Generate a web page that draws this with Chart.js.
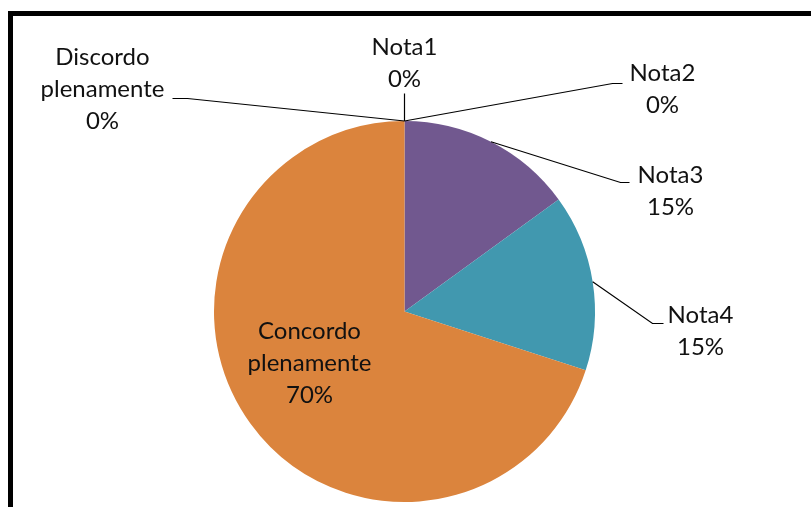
<!DOCTYPE html>
<html>
<head>
<meta charset="utf-8">
<script src="https://cdn.jsdelivr.net/npm/chart.js@4"></script>
<style>
    body { margin: 0; background: #fff; }
    #wrap { position: relative; width: 811px; height: 507px; overflow: hidden; }
    #frame { position: absolute; left: 8px; top: 11px; width: 900px; height: 600px;
             border-left: 5px solid #000; border-top: 5px solid #000; }
    canvas { position: absolute; left: 0; top: 0; }
</style>
</head>
<body>
<div id="wrap">
    <div id="frame"></div>
    <canvas id="pieChart" width="811" height="507"></canvas>
</div>
<script>
const categories = ['Discordo plenamente', 'Nota1', 'Nota2', 'Nota3', 'Nota4', 'Concordo plenamente'];
const labelLines = [['Discordo', 'plenamente', '0%'], ['Nota1', '0%'], ['Nota2', '0%'], ['Nota3', '15%'], ['Nota4', '15%'], ['Concordo', 'plenamente', '70%']];
const percents = [0, 0, 0, 15, 15, 70];
const sliceColors = ['#4F6FA5', '#B24A47', '#8FAB4F', '#71588F', '#4198AF', '#DB843D'];

// label anchor (text centre, relative to pie centre) and where the leader line ends
const labelPlace = [
    { dx: -302, dy: -222, lineTo: [-217, -213], stub: -15 },
    { dx: 0, dy: -248, lineTo: [0, -218], stub: 0 },
    { dx: 258, dy: -222, lineTo: [208, -228], stub: 10 },
    { dx: 266, dy: -120, lineTo: [216, -129], stub: 9 },
    { dx: 296, dy: 20, lineTo: [248, 12], stub: 11 },
    { dx: -95, dy: 52, inside: true }
];

const labelPlugin = {
    id: 'pieLabels',
    afterDraw(chart) {
        const ctx = chart.ctx;
        const arcs = chart.getDatasetMeta(0).data;
        ctx.save();
        ctx.font = '24px Lato, "Open Sans", sans-serif';
        ctx.fillStyle = '#111';
        ctx.textAlign = 'center';
        ctx.textBaseline = 'middle';
        arcs.forEach((arc, i) => {
            const p = arc.getProps(['x', 'y', 'startAngle', 'endAngle', 'outerRadius'], true);
            const place = labelPlace[i];
            const cx = p.x, cy = p.y;
            if (!place.inside) {
                const mid = (p.startAngle + p.endAngle) / 2;
                const sx = cx + Math.cos(mid) * p.outerRadius;
                const sy = cy + Math.sin(mid) * p.outerRadius;
                const ex = cx + place.lineTo[0];
                const ey = cy + place.lineTo[1];
                ctx.beginPath();
                ctx.strokeStyle = '#000';
                ctx.lineWidth = 1.2;
                ctx.moveTo(sx, sy);
                ctx.lineTo(ex, ey);
                if (place.stub) ctx.lineTo(ex + place.stub, ey);
                ctx.stroke();
            }
            const lines = labelLines[i];
            const step = 32;
            const top = cy + place.dy - (lines.length - 1) * step / 2;
            lines.forEach((t, k) => ctx.fillText(t, cx + place.dx, top + k * step));
        });
        ctx.restore();
    }
};

new Chart(document.getElementById('pieChart').getContext('2d'), {
    type: 'pie',
    data: {
        labels: categories,
        datasets: [{
            data: percents,
            backgroundColor: sliceColors,
            borderWidth: 0
        }]
    },
    options: {
        responsive: false,
        animation: false,
        layout: { padding: { top: 121, left: 214, right: 216, bottom: 5 } },
        plugins: {
            legend: { display: false },
            tooltip: { enabled: false }
        }
    },
    plugins: [labelPlugin]
});
</script>
</body>
</html>
